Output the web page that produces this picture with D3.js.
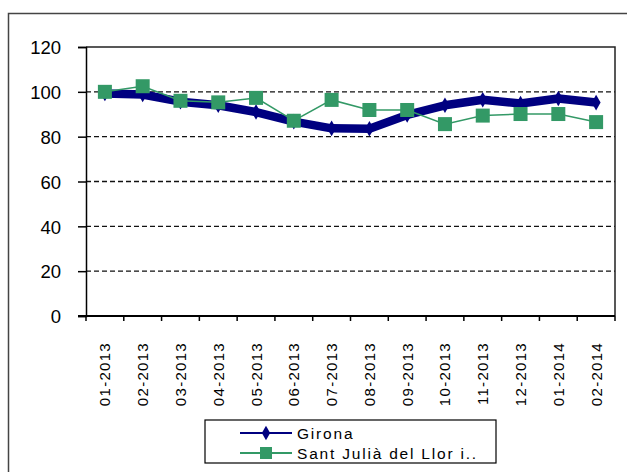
<!DOCTYPE html>
<html>
<head>
<meta charset="utf-8">
<script src="https://cdn.jsdelivr.net/npm/d3@7"></script>
<style>
  body { margin: 0; background: #fff; }
  text { font-family: "Liberation Sans", Arial, sans-serif; fill: #000; }
</style>
</head>
<body>
<div id="chart"></div>
<script>
// months on the x axis
const MONTHS = ["01-2013", "02-2013", "03-2013", "04-2013", "05-2013", "06-2013", "07-2013",
  "08-2013", "09-2013", "10-2013", "11-2013", "12-2013", "01-2014", "02-2014"];
const GIRONA = [99.3, 98.8, 95.6, 94, 91, 86.7, 83.7, 83.5, 89.7, 94, 96.5, 94.8, 97, 95.2];
const SANT_JULIA = [100, 102.5, 96, 95.3, 97.3, 87.1, 96.4, 91.9, 91.9, 85.6, 89.4, 90.1, 90.1, 86.5];
const Y_TICKS = [0, 20, 40, 60, 80, 100, 120];
const SERIES_NAMES = ["Girona", "Sant Julià del Llor i.."];

const width = 627, height = 472;
const plot = { left: 86, top: 47, right: 615, bottom: 316 };

const svg = d3.select("#chart").append("svg")
  .attr("width", width)
  .attr("height", height);

// outer chart border (runs off the picture on right and bottom)
svg.append("rect")
  .attr("x", 8.5).attr("y", 13.5)
  .attr("width", 640).attr("height", 480)
  .attr("fill", "none")
  .attr("stroke", "#444")
  .attr("stroke-width", 1.5);

const x = d3.scaleBand().domain(MONTHS).range([plot.left, plot.right]);
const y = d3.scaleLinear().domain([0, 120]).range([plot.bottom, plot.top]);

// dashed gridlines
svg.append("g")
  .selectAll("line")
  .data(Y_TICKS.filter(d => d > 0 && d < 120))
  .enter().append("line")
  .attr("x1", plot.left).attr("x2", plot.right)
  .attr("y1", d => y(d)).attr("y2", d => y(d))
  .attr("stroke", "#111")
  .attr("stroke-width", 1.4)
  .attr("stroke-dasharray", "5,3");

// plot frame top + right
svg.append("path")
  .attr("d", `M${plot.left},${plot.top}H${plot.right}V${plot.bottom}`)
  .attr("fill", "none")
  .attr("stroke", "#222")
  .attr("stroke-width", 1.5);

// y axis
const yAxis = d3.axisLeft(y).tickValues(Y_TICKS).tickSize(8).tickPadding(17);
const gy = svg.append("g")
  .attr("transform", "translate(" + plot.left + ",0)")
  .call(yAxis);
gy.select(".domain").attr("stroke", "#000").attr("stroke-width", 1.5);
gy.selectAll(".tick line").attr("stroke", "#000").attr("stroke-width", 1.5);
gy.selectAll(".tick text").style("font-size", "18.5px").attr("dy", "0.36em");

// x axis, ticks between categories
const gx = svg.append("g")
  .attr("transform", "translate(0," + plot.bottom + ")");
gx.append("line")
  .attr("x1", plot.left - 8).attr("x2", plot.right)
  .attr("stroke", "#000").attr("stroke-width", 2);
gx.selectAll("line.tk")
  .data(MONTHS.concat(["end"]))
  .enter().append("line")
  .attr("class", "tk")
  .attr("x1", (d, i) => i < MONTHS.length ? x(d) : plot.right)
  .attr("x2", (d, i) => i < MONTHS.length ? x(d) : plot.right)
  .attr("y1", 0).attr("y2", 5)
  .attr("stroke", "#000").attr("stroke-width", 1.5);
gx.selectAll("text")
  .data(MONTHS)
  .enter().append("text")
  .attr("transform", d => "translate(" + (x(d) + x.bandwidth() / 2 + 5.5) + ",26) rotate(-90)")
  .attr("text-anchor", "end")
  .style("font-size", "15px")
  .style("letter-spacing", "1.3px")
  .text(d => d);

const cx = d => x(d) + x.bandwidth() / 2;
const line = d3.line().x(d => cx(d.m)).y(d => y(d.v));

const gData = MONTHS.map((m, i) => ({ m: m, v: GIRONA[i] }));
const sData = MONTHS.map((m, i) => ({ m: m, v: SANT_JULIA[i] }));

// Girona - thick navy with diamonds
svg.append("path")
  .datum(gData)
  .attr("d", line)
  .attr("fill", "none")
  .attr("stroke", "#000080")
  .attr("stroke-width", 8.5)
  .attr("stroke-linejoin", "round");
svg.selectAll("path.dia")
  .data(gData)
  .enter().append("path")
  .attr("class", "dia")
  .attr("d", d3.symbol(d3.symbolDiamond, 70))
  .attr("transform", d => "translate(" + cx(d.m) + "," + y(d.v) + ")")
  .attr("fill", "#000080");

// Sant Julià - thin green with squares
svg.append("path")
  .datum(sData)
  .attr("d", line)
  .attr("fill", "none")
  .attr("stroke", "#339966")
  .attr("stroke-width", 1.5);
svg.selectAll("rect.sq")
  .data(sData)
  .enter().append("rect")
  .attr("class", "sq")
  .attr("x", d => cx(d.m) - 7)
  .attr("y", d => y(d.v) - 7)
  .attr("width", 14).attr("height", 14)
  .attr("fill", "#339966");

// legend
const lg = svg.append("g").attr("transform", "translate(205,420)");
lg.append("rect")
  .attr("width", 291).attr("height", 43)
  .attr("fill", "#fff")
  .attr("stroke", "#000").attr("stroke-width", 1.2);

const rows = lg.selectAll("g.row")
  .data(SERIES_NAMES)
  .enter().append("g")
  .attr("class", "row")
  .attr("transform", (d, i) => "translate(0," + (13 + i * 20) + ")");
rows.append("line")
  .attr("x1", 35).attr("x2", 87)
  .attr("stroke", (d, i) => i === 0 ? "#000080" : "#339966")
  .attr("stroke-width", 2);
rows.filter((d, i) => i === 0).append("path")
  .attr("d", d3.symbol(d3.symbolDiamond, 60))
  .attr("transform", "translate(61,0)")
  .attr("fill", "#000080");
rows.filter((d, i) => i === 1).append("rect")
  .attr("x", 55).attr("y", -6)
  .attr("width", 12).attr("height", 12)
  .attr("fill", "#339966");
rows.append("text")
  .attr("x", 92)
  .attr("dy", "0.36em")
  .style("font-size", "15.5px")
  .style("letter-spacing", "1.8px")
  .text(d => d);
</script>
</body>
</html>
